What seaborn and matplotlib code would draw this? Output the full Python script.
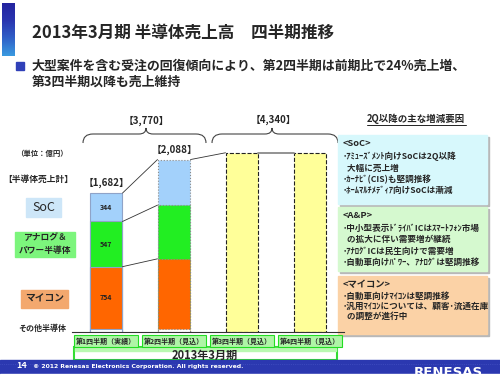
import numpy as np
import pandas as pd
import seaborn as sns
import matplotlib.pyplot as plt
from matplotlib.patches import Rectangle, PathPatch
from matplotlib.path import Path

# values in 億円
quarters = ['第1四半期（実績）', '第2四半期（見込）', '第3四半期（見込）', '第4四半期（見込）']
other = [37, 38, np.nan, np.nan]
mcu = [754, 848, np.nan, np.nan]
analog = [547, 650, np.nan, np.nan]
soc = [344, 552, np.nan, np.nan]
forecast = [np.nan, np.nan, 2170, 2170]
quarter_totals = ['1,682', '2,088']
half_totals = ['3,770', '4,340']
period = '2013年3月期'

soc_notes = ['<SoC>', '･ｱﾐｭｰｽﾞﾒﾝﾄ向けSoCは2Q以降', '  大幅に売上増', '･ｶｰﾅﾋﾞ(CIS)も堅調推移',
             '･ﾎｰﾑﾏﾙﾁﾒﾃﾞｨｱ向けSoCは漸減']
ap_notes = ['<A&P>', '･中小型表示ﾄﾞﾗｲﾊﾞICはｽﾏｰﾄﾌｫﾝ市場', '  の拡大に伴い需要増が継続',
            '･ｱﾅﾛｸﾞICは民生向けで需要増', '･自動車向けﾊﾟﾜｰ、ｱﾅﾛｸﾞは堅調推移']
mcu_notes = ['<マイコン>', '･自動車向けﾏｲｺﾝは堅調推移', '･汎用ﾏｲｺﾝについては、顧客･流通在庫',
             '  の調整が進行中']

sns.set_style('white')
plt.rcParams['font.family'] = ['Noto Sans CJK JP', 'DejaVu Sans']

fig = plt.figure(figsize=(5, 3.8), dpi=100)

# full-slide layer in pixel coordinates for the decoration
bg = fig.add_axes([0, 0, 1, 1])
bg.set_xlim(0, 500)
bg.set_ylim(380, 0)
bg.axis('off')
bg.patch.set_visible(False)

# title area
grad = np.linspace(0, 1, 60).reshape(-1, 1)
bg.imshow(grad, extent=[2, 15, 56, 3], aspect='auto', cmap=plt.matplotlib.colors.LinearSegmentedColormap.from_list(
    'tb', ['#2424a0', '#2a36b0', '#3060c8', '#3a9ae0']), zorder=1)
bg.text(32, 33, '2013年3月期 半導体売上高　四半期推移', fontsize=12, fontweight='bold', va='center')
bg.add_patch(Rectangle((16, 62), 8, 8, color='#3040b8'))
bg.text(32, 66, '大型案件を含む受注の回復傾向により、第2四半期は前期比で24%売上増、',
        fontsize=9.3, fontweight='bold', va='center')
bg.text(32, 82, '第3四半期以降も売上維持', fontsize=9.3, fontweight='bold', va='center')

# left legend labels
bg.text(42, 153, '（単位：億円）', fontsize=5.3, fontweight='bold', ha='center', va='center')
bg.text(38, 179, '【半導体売上計】', fontsize=6.3, fontweight='bold', ha='center', va='center')
bg.add_patch(Rectangle((26, 198), 35, 19, color='#cde6f8'))
bg.text(43.5, 207.5, 'SoC', fontsize=9, ha='center', va='center')
bg.add_patch(Rectangle((15, 232), 60, 25, color='#7cf57c'))
bg.text(45, 238, 'アナログ＆', fontsize=6.3, fontweight='bold', ha='center', va='center')
bg.text(45, 251, 'パワー半導体', fontsize=6.3, fontweight='bold', ha='center', va='center')
bg.add_patch(Rectangle((21, 290), 47, 18, color='#f3a86e'))
bg.text(44.5, 299, 'マイコン', fontsize=7, fontweight='bold', ha='center', va='center')
bg.text(42, 328, 'その他半導体', fontsize=5.8, fontweight='bold', ha='center', va='center')


def brace(x0, x1, xc, yb=143, ym=134, yt=128):
    verts = [(x0, yb), (x0, ym), (x0 + 10, ym), (xc - 7, ym), (xc, ym), (xc, yt),
             (xc, ym), (xc + 7, ym), (x1 - 10, ym), (x1, ym), (x1, yb)]
    codes = [Path.MOVETO, Path.CURVE3, Path.CURVE3, Path.LINETO, Path.CURVE3, Path.CURVE3,
             Path.CURVE3, Path.CURVE3, Path.LINETO, Path.CURVE3, Path.CURVE3]
    bg.add_patch(PathPatch(Path(verts, codes), fc='none', ec='#444444', lw=0.8))


brace(83, 206, 146)
brace(212, 338, 272)
bg.text(146, 121, f'【{half_totals[0]}】', fontsize=7, fontweight='bold', ha='center', va='center')
bg.text(273, 120, f'【{half_totals[1]}】', fontsize=7, fontweight='bold', ha='center', va='center')

# right hand notes
bg.text(416, 119, '2Q以降の主な増減要因', fontsize=6.8, fontweight='bold', ha='center', va='center')
bg.plot([367, 466], [125, 125], color='#222222', lw=0.7)
for (top, bottom, fill, lines) in [(135, 204, '#d7f8fc', soc_notes),
                                   (207, 271, '#d5f9cf', ap_notes),
                                   (276, 334, '#fbd2a6', mcu_notes)]:
    bg.add_patch(Rectangle((340, top + 1.5), 149, bottom - top, color='#b8b8b8'))
    bg.add_patch(Rectangle((338, top), 149, bottom - top, color=fill))
    step = 11.2 if len(lines) > 4 else 9.8
    for k, line in enumerate(lines):
        bg.text(343, top + 9 + k * step + (1.5 if k else 0), line, fontsize=6.2 if k else 6.7,
                fontweight='bold', va='center')

# period box under the quarters
bg.add_patch(Rectangle((74, 347), 263, 13, fc='#ffffff', ec='#33dd33', lw=1.5))
bg.add_patch(Rectangle((75, 348), 261, 3, color='#b8f8b0'))
bg.text(205, 355, period, fontsize=8, fontweight='bold', ha='center', va='center')

# footer
bg.add_patch(Rectangle((0, 360), 500, 14, color='#2b38b0'))
bg.plot([0, 500], [364, 364], color='#4a58c8', lw=0.5, ls=':')
bg.text(16, 366, '14', fontsize=6.5, fontweight='bold', color='white', va='center')
bg.text(33, 366.5, '© 2012 Renesas Electronics Corporation. All rights reserved.', fontsize=4.4,
        fontweight='bold', color='white', va='center', family='DejaVu Sans')
bg.text(448, 373, 'RENESAS', fontsize=9.5, fontweight='bold', color='white', ha='center',
        va='center', family='DejaVu Sans')
bg.add_patch(Rectangle((0, 374), 500, 6, color='white', zorder=5))

# the chart itself
ax = fig.add_axes([0.144, 0.1263, 0.544, 0.5434])
ax.patch.set_visible(False)

df = pd.DataFrame({'quarter': quarters, 'other': other, 'mcu': mcu,
                   'analog': analog, 'soc': soc, 'forecast': forecast})
df['c_other'] = df['other']
df['c_mcu'] = df['c_other'] + df['mcu']
df['c_analog'] = df['c_mcu'] + df['analog']
df['c_soc'] = df['c_analog'] + df['soc']

W = 0.485
layers = [('c_soc', '#a3d1fb'), ('c_analog', '#22ee22'), ('c_mcu', '#ff6600'), ('c_other', '#ffffff')]
for col, colr in layers:
    sns.barplot(data=df, x='quarter', y=col, order=quarters, color=colr, saturation=1,
                width=W, edgecolor='#8fa3c8', linewidth=0.8, errorbar=None, ax=ax)
n_actual = len(ax.patches)
sns.barplot(data=df, x='quarter', y='forecast', order=quarters, color='#ffff99', saturation=1,
            width=W, edgecolor='#222222', linewidth=0.8, linestyle='--', errorbar=None, ax=ax)

# second quarter outline is dotted on the slide
for p in ax.patches[:n_actual]:
    if round(p.get_x() + p.get_width() / 2) == 1:
        p.set_linestyle(':')
        p.set_edgecolor('#8a8a8a')

for col in ['c_soc', 'c_analog', 'c_mcu']:
    ax.plot([W / 2, 1 - W / 2], [df[col][0], df[col][1]], color='#333333', lw=0.6)
ax.plot([1 + W / 2, 2 - W / 2], [df['c_soc'][1], df['forecast'][2]], color='#333333', lw=0.6)
ax.plot([2 + W / 2, 3 - W / 2], [df['forecast'][2], df['forecast'][3]], color='#8a8a8a', lw=1.3)

for lo, hi, v in [('c_other', 'c_mcu', 'mcu'), ('c_mcu', 'c_analog', 'analog'), ('c_analog', 'c_soc', 'soc')]:
    ax.text(0, (df[lo][0] + df[hi][0]) / 2, f'{df[v][0]:.0f}', ha='center', va='center',
            fontsize=5, fontweight='bold', color='#222222')
for i, t in enumerate(quarter_totals):
    ax.text(i, df['c_soc'][i] + 60, f'【{t}】', ha='center', va='bottom', fontsize=7,
            fontweight='bold', clip_on=False)

ax.set_xlim(-0.5, 3.5)
ax.set_ylim(0, 2500)
ax.set_yticks([])
ax.set_xlabel('')
ax.set_ylabel('')
sns.despine(ax=ax, left=True)
ax.spines['bottom'].set_color('#333333')
ax.spines['bottom'].set_linewidth(0.8)
ax.set_xticks(range(len(quarters)))
ax.set_xticklabels(quarters, fontsize=5, fontweight='bold',
                   bbox=dict(boxstyle='square,pad=0.35', fc='#aef5a6', ec='#22dd22', lw=0.8))
ax.tick_params(axis='x', which='major', length=0, pad=4)
ax.set_xticks([-0.5, 0.5, 1.5, 2.5, 3.5], minor=True)
ax.tick_params(axis='x', which='minor', length=5, direction='inout', width=0.8, color='#333333')

fig.savefig('out.png', dpi=100)
